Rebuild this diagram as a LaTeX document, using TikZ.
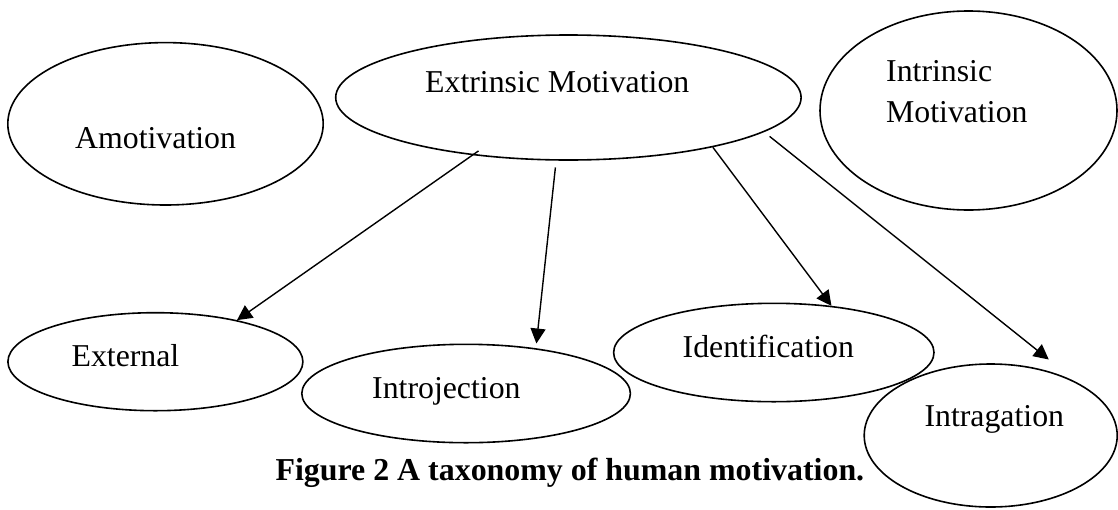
\documentclass[tikz,border=0pt]{standalone}
\usepackage{fontspec}
\setmainfont{Liberation Serif}
\usetikzlibrary{shapes.geometric,arrows.meta}
\tikzset{
  bubble/.style={draw, ellipse, line width=1.6pt, inner sep=0pt},
  lbl/.style={anchor=base west, inner sep=0pt, font=\fontsize{31.8}{42}\selectfont},
  arr/.style={line width=1.4pt, -{Triangle[length=15pt,width=15pt]}}
}
\begin{document}
\begin{tikzpicture}[x=1pt,y=-1pt]
\useasboundingbox (0,0) rectangle (1118,509);
% ellipses
\node[bubble, minimum width=315.4pt, minimum height=162.4pt] (amo) at (165.5,123.8) {};
\node[bubble, minimum width=465.4pt, minimum height=125pt] (ext) at (568.4,97.5) {};
\node[bubble, minimum width=297pt, minimum height=199pt] (intr) at (968.5,110.5) {};
\node[bubble, minimum width=295pt, minimum height=98pt] (exter) at (155.4,361.7) {};
\node[bubble, minimum width=328.6pt, minimum height=98.4pt] (introj) at (466.1,393.5) {};
\node[bubble, minimum width=320.4pt, minimum height=98.4pt] (ident) at (773.8,352.5) {};
\node[bubble, minimum width=253pt, minimum height=143pt] (intrag) at (990.7,435.5) {};
% labels
\node[lbl] (tamo) at (75,148.3) {Amotivation};
\node[lbl] (text) at (425,92.7) {Extrinsic Motivation};
\node[lbl] (tintr1) at (886,81) {Intrinsic};
\node[lbl] (tintr2) at (886,122.7) {Motivation};
\node[lbl] (texter) at (71.4,366.7) {External};
\node[lbl] (tintroj) at (372,398.3) {Introjection};
\node[lbl] (tident) at (682.5,357.3) {Identification};
\node[lbl] (tintrag) at (924.3,426) {Intragation};
% caption
\node[anchor=base, inner sep=0pt, font=\fontsize{31.9}{38}\selectfont\bfseries] (cap) at (569.9,480) {Figure 2 A taxonomy of human motivation.};
% arrows
\draw[arr, shorten <=-7.5pt] (ext.211.8) -- (exter.27.6);
\draw[arr, shorten <=6.8pt, shorten >=4.7pt] (ext.259.5) -- (introj.33.4);
\draw[arr] (ext.341.7) -- (ident.39.9);
\draw[arr, shorten <=7pt, shorten >=37.6pt] (ext.350.5) -- (intrag.31.4);
\end{tikzpicture}
\end{document}
